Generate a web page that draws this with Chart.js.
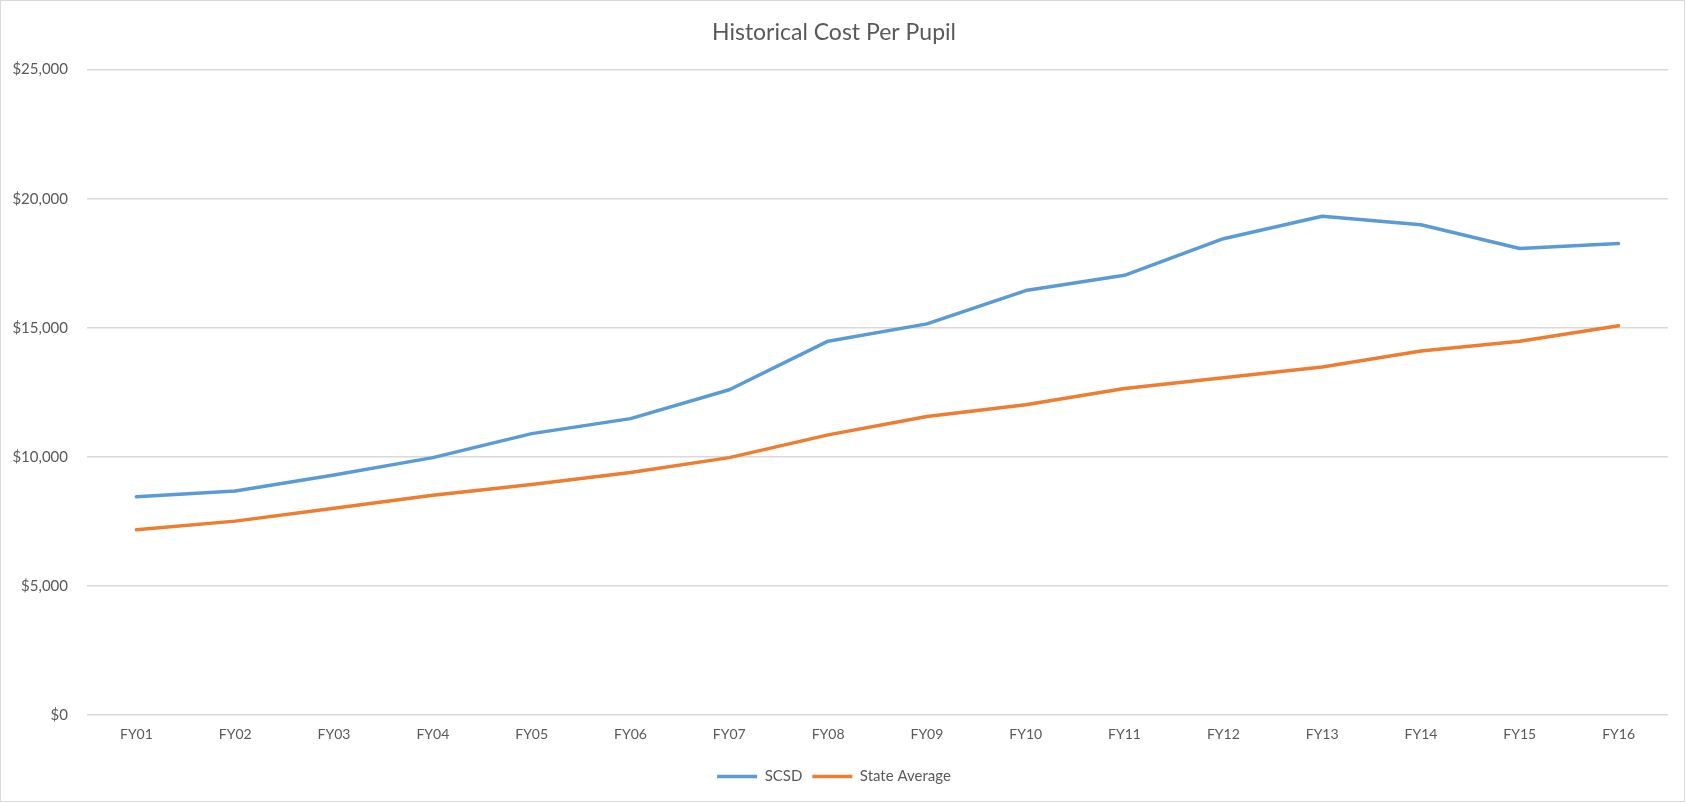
<!DOCTYPE html>
<html>
<head>
<meta charset="utf-8">
<title>Historical Cost Per Pupil</title>
<script src="https://cdn.jsdelivr.net/npm/chart.js@4"></script>
<style>
  html, body { margin: 0; padding: 0; background: #fff; }
  #wrap { width: 1686px; height: 803px; }
</style>
</head>
<body>
<div id="wrap"><canvas id="cost-chart"></canvas></div>
<script>
// DATA
const years = ['FY01', 'FY02', 'FY03', 'FY04', 'FY05', 'FY06', 'FY07', 'FY08',
               'FY09', 'FY10', 'FY11', 'FY12', 'FY13', 'FY14', 'FY15', 'FY16'];
const scsd = [8450, 8680, 9300, 9970, 10900, 11480, 12600, 14480,
              15150, 16440, 17030, 18450, 19320, 18990, 18070, 18260];
const stateAverage = [7180, 7510, 8010, 8510, 8930, 9390, 9970, 10850,
                      11560, 12020, 12650, 13060, 13480, 14100, 14480, 15080];
const yTicks = [0, 5000, 10000, 15000, 20000, 25000];

const textColor = '#595959';
const gridColor = '#d9d9d9';
const fontFamily = 'Lato, "Open Sans", sans-serif';

// thin grey frame round the chart, like the spreadsheet chart
const framePlugin = {
    id: 'frame',
    beforeDraw: (chart) => {
        const ctx = chart.ctx;
        ctx.save();
        ctx.strokeStyle = '#d9d9d9';
        ctx.lineWidth = 1;
        ctx.strokeRect(0.5, 0.5, chart.width - 2, chart.height - 2);
        ctx.restore();
    }
};

const buildChart = () => {
    const ctx = document.getElementById('cost-chart').getContext('2d');
    return new Chart(ctx, {
        type: 'line',
        data: {
            labels: years,
            datasets: [{
                label: 'SCSD',
                data: scsd,
                borderColor: '#5b9bd5',
                backgroundColor: '#5b9bd5',
                borderWidth: 3.5,
                pointRadius: 0,
                tension: 0,
                borderCapStyle: 'round',
                borderJoinStyle: 'round'
            }, {
                label: 'State Average',
                data: stateAverage,
                borderColor: '#ed7d31',
                backgroundColor: '#ed7d31',
                borderWidth: 3.5,
                pointRadius: 0,
                tension: 0,
                borderCapStyle: 'round',
                borderJoinStyle: 'round'
            }]
        },
        options: {
            responsive: true,
            maintainAspectRatio: false,
            animation: false,
            layout: { padding: { top: 0, right: 18, bottom: 9, left: 0 } },
            plugins: {
                title: {
                    display: true,
                    text: 'Historical Cost Per Pupil',
                    color: textColor,
                    font: { family: fontFamily, size: 23, weight: 'normal' },
                    padding: { top: 19, bottom: 23 }
                },
                legend: {
                    position: 'bottom',
                    labels: {
                        color: textColor,
                        font: { family: fontFamily, size: 15 },
                        usePointStyle: true,
                        pointStyle: 'line',
                        pointStyleWidth: 40,
                        padding: 10
                    }
                },
                tooltip: { enabled: false }
            },
            scales: {
                x: {
                    offset: true,
                    grid: { display: false, drawTicks: false },
                    border: { display: false },
                    ticks: {
                        color: textColor,
                        font: { family: fontFamily, size: 14 },
                        padding: 11,
                        maxRotation: 0
                    },
                    afterFit: (scale) => { scale.height = 44; }
                },
                y: {
                    min: 0,
                    max: 25000,
                    afterBuildTicks: (scale) => {
                        scale.ticks = yTicks.map(v => ({ value: v }));
                    },
                    grid: { color: gridColor, lineWidth: 1.5, drawTicks: false },
                    border: { display: false },
                    ticks: {
                        color: textColor,
                        font: { family: fontFamily, size: 15 },
                        padding: 19,
                        callback: (v) => '$' + v.toLocaleString('en-US')
                    },
                    afterFit: (scale) => { scale.width = 87; }
                }
            }
        },
        plugins: [framePlugin]
    });
};

buildChart();
</script>
</body>
</html>
